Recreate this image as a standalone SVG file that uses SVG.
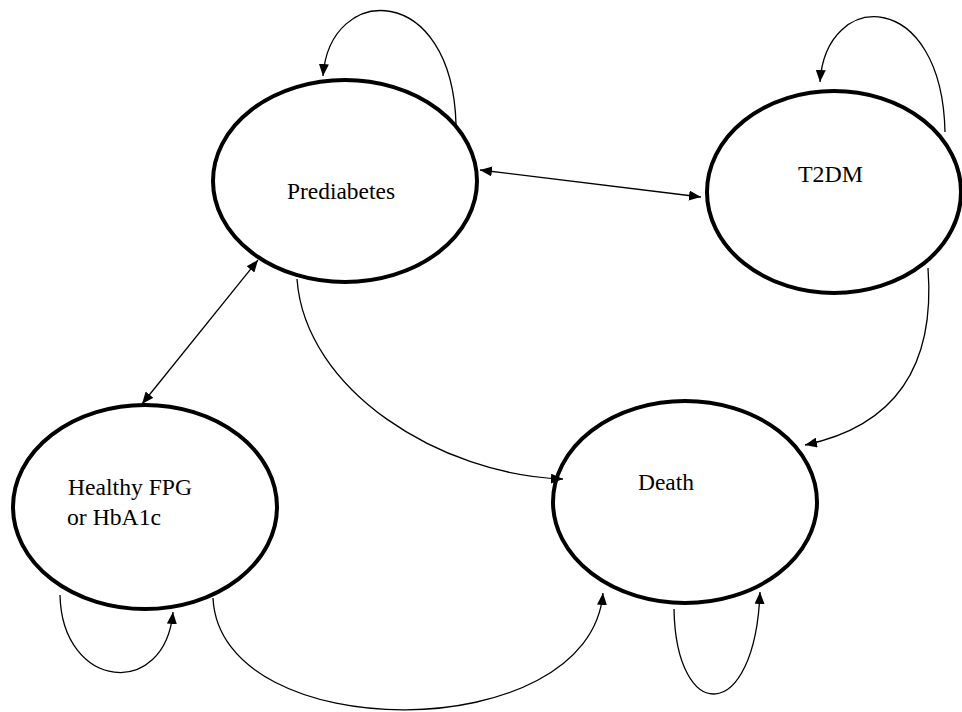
<svg xmlns="http://www.w3.org/2000/svg" width="962" height="712" viewBox="0 0 962 712">
<defs>
<marker id="ah" viewBox="0 0 12 10" refX="12" refY="5" markerWidth="12" markerHeight="10" markerUnits="userSpaceOnUse" orient="auto-start-reverse">
<path d="M0,0 L12,5 L0,10 Z" fill="#000"/>
</marker>
</defs>
<style>
.node{fill:#fff;stroke:#000;stroke-width:4}
.lbl{font-family:'Liberation Serif','DejaVu Serif',serif;font-size:23px;fill:#000}
.c{fill:none;stroke:#000;stroke-width:1.3}
</style>
<rect width="962" height="712" fill="#fff"/>
<g id="prediabetes">
<ellipse class="node" cx="345" cy="181" rx="132" ry="101"/>
<text class="lbl" x="287" y="199" textLength="108" lengthAdjust="spacingAndGlyphs">Prediabetes</text>
</g>
<g id="t2dm">
<ellipse class="node" cx="834" cy="192" rx="127" ry="101"/>
<text class="lbl" x="798" y="182" textLength="65" lengthAdjust="spacingAndGlyphs">T2DM</text>
</g>
<g id="healthy">
<ellipse class="node" cx="145" cy="507" rx="132" ry="102"/>
<text class="lbl" x="68" y="495" textLength="124" lengthAdjust="spacingAndGlyphs">Healthy FPG</text>
<text class="lbl" x="67" y="525" textLength="94" lengthAdjust="spacingAndGlyphs">or HbA1c</text>
</g>
<g id="death">
<ellipse class="node" cx="685" cy="502" rx="132" ry="101"/>
<text class="lbl" x="638" y="490" textLength="56" lengthAdjust="spacingAndGlyphs">Death</text>
</g>
<g id="connectors">
<path class="c" d="M456,124 C452,-18 330,-18 323,76" marker-end="url(#ah)"/>
<path class="c" d="M945,132 C942,-12 826,-12 820,82" marker-end="url(#ah)"/>
<path class="c" d="M480,170 L701,197" marker-start="url(#ah)" marker-end="url(#ah)"/>
<path class="c" d="M258,260 L142,404" marker-start="url(#ah)" marker-end="url(#ah)"/>
<path class="c" d="M297,279 C305,390 440,475 563,479" marker-end="url(#ah)"/>
<path class="c" d="M928,268 C935,360 900,425 805,445" marker-end="url(#ah)"/>
<path class="c" d="M60,595 C62,690 165,700 173,612" marker-end="url(#ah)"/>
<path class="c" d="M213,598 C220,748 590,748 603,593" marker-end="url(#ah)"/>
<path class="c" d="M674,609 C676,725 755,725 760,592" marker-end="url(#ah)"/>
</g>
</svg>
